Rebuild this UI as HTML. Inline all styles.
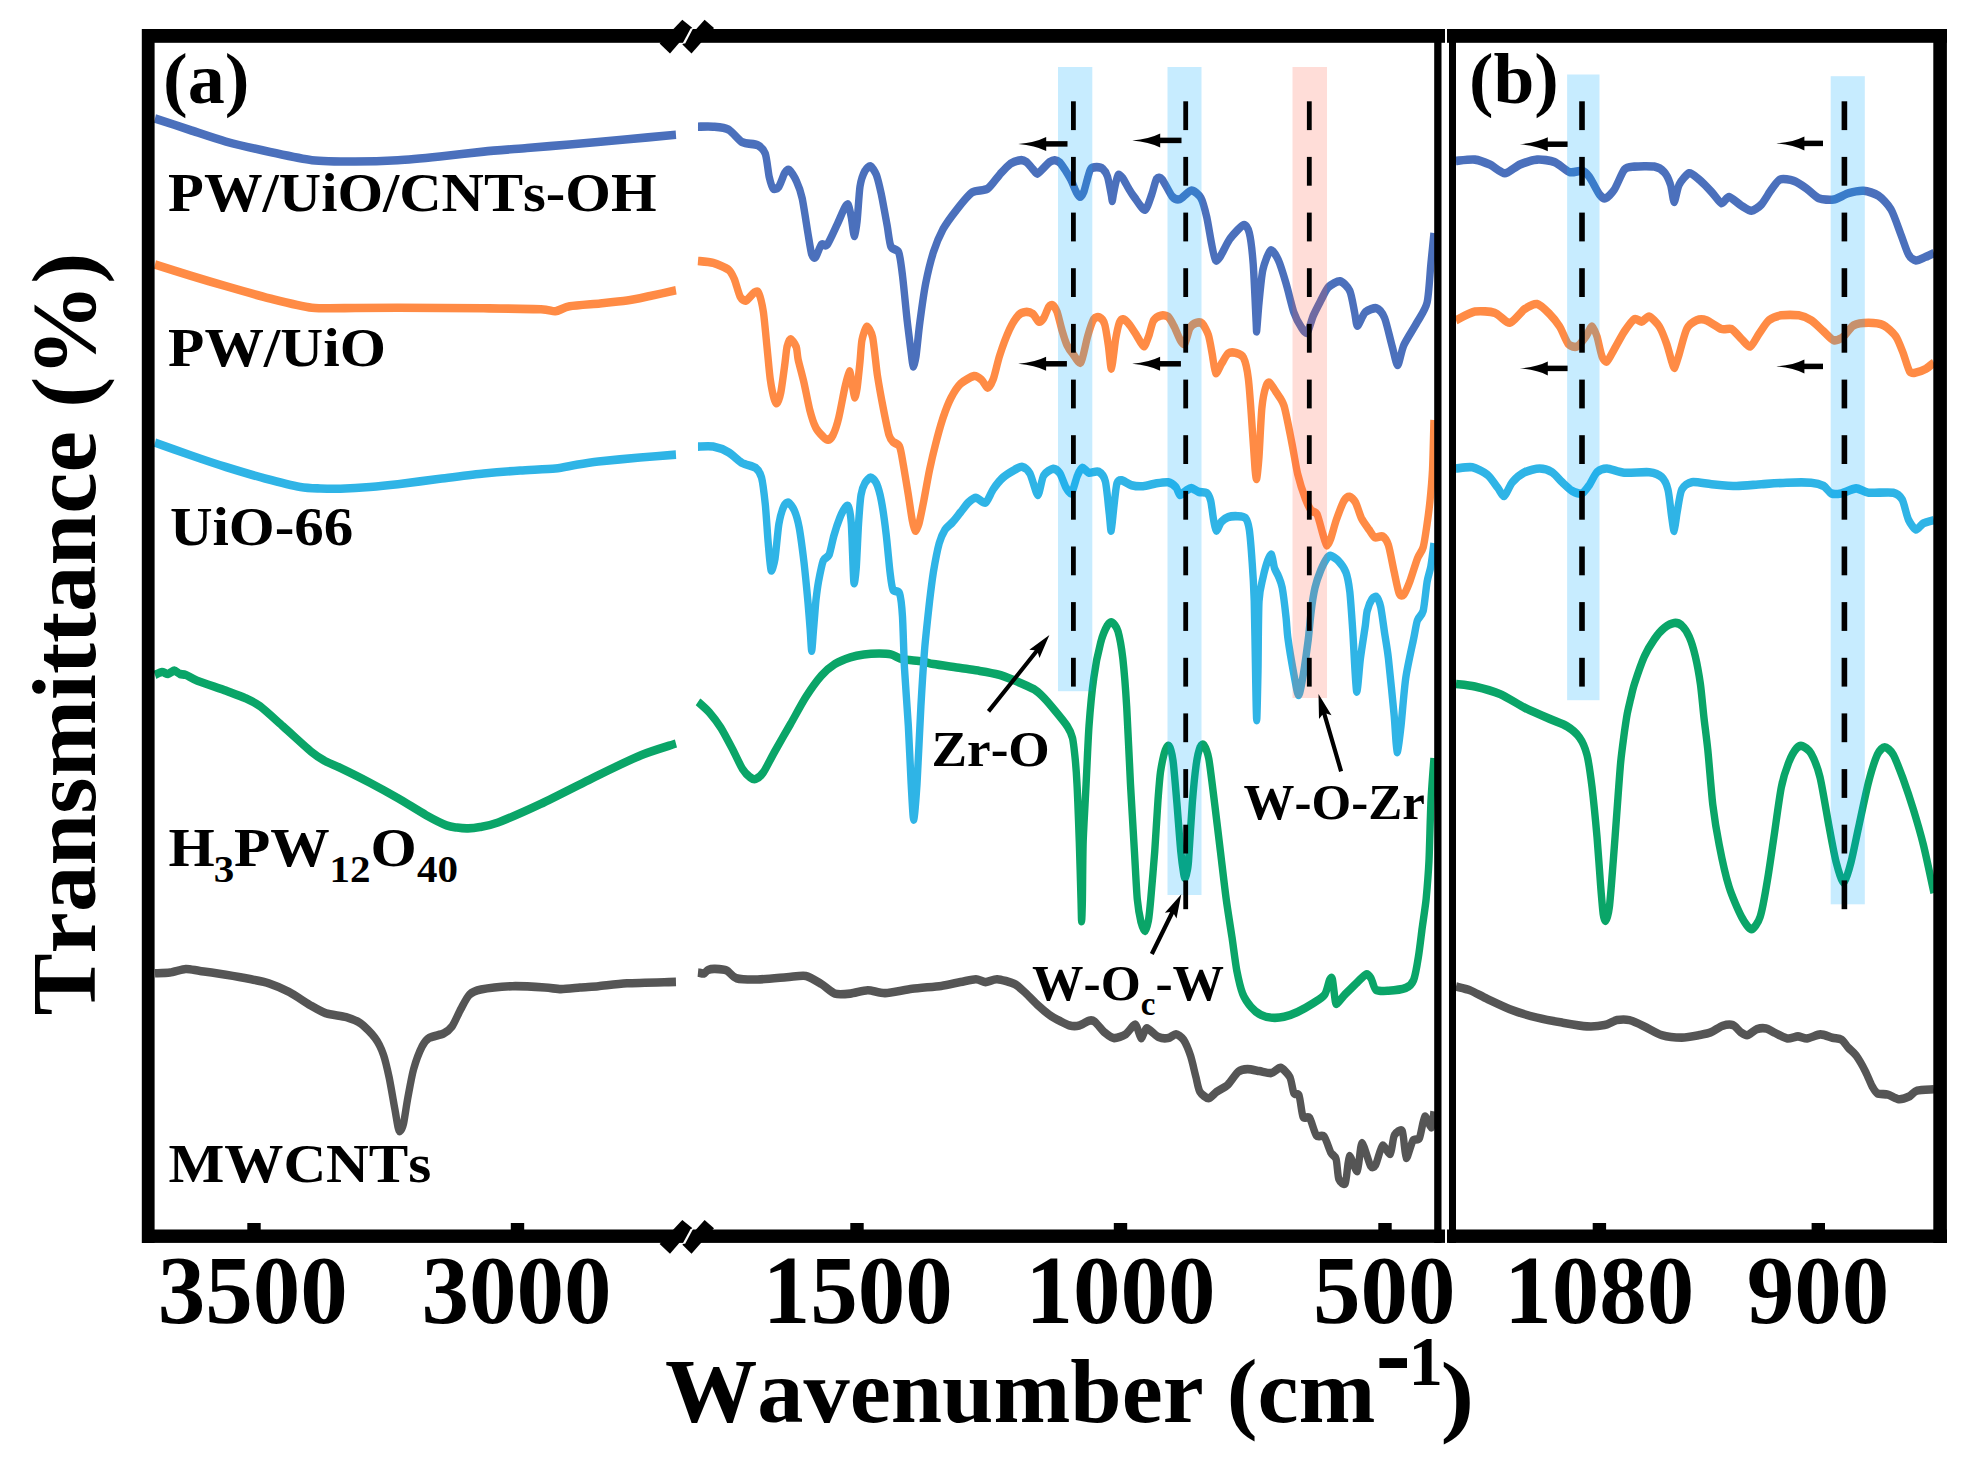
<!DOCTYPE html>
<html><head><meta charset="utf-8"><title>FTIR spectra</title>
<style>
html,body{margin:0;padding:0;background:#fff;}
body{width:1967px;height:1466px;overflow:hidden;}
svg{display:block;}
text{font-kerning:none;font-family:"Liberation Serif","Times New Roman",serif;font-weight:bold;fill:#000;}
</style></head><body>
<svg width="1967" height="1466" viewBox="0 0 1967 1466">
<rect x="0" y="0" width="1967" height="1466" fill="#fff"/>

<g fill="none" stroke-linejoin="round" stroke-linecap="butt" stroke-width="8.6" transform="scale(0.86,1)">
<path d="M180.2,973.3C182.4,973.2 193.2,973.0 197.7,972.5C202.2,972.0 211.7,969.2 216.0,969.0C220.4,968.8 226.7,970.3 232.6,971.0C238.4,971.7 255.4,973.7 262.7,974.7C269.9,975.7 284.4,977.9 290.7,979.0C296.9,980.1 307.0,981.7 312.7,983.3C318.3,984.9 329.8,989.0 336.0,991.9C342.3,994.8 357.3,1003.5 362.7,1006.2C368.1,1008.9 374.3,1012.0 379.3,1013.4C384.3,1014.8 397.6,1015.9 402.6,1017.1C407.6,1018.4 415.1,1020.8 419.3,1023.4C423.5,1026.0 432.6,1033.9 435.9,1037.8C439.3,1041.7 443.9,1049.9 445.9,1054.9C448.0,1059.9 450.9,1071.1 452.6,1077.9C454.2,1084.7 457.9,1103.3 459.2,1109.4C460.5,1115.5 462.0,1124.3 462.8,1127.0C463.5,1129.7 464.3,1131.4 465.1,1131.0C465.9,1130.6 468.1,1127.8 469.2,1123.7C470.3,1119.6 472.7,1104.7 474.2,1097.9C475.7,1091.1 478.8,1075.8 480.9,1069.3C483.0,1062.8 488.6,1050.2 490.9,1046.3C493.2,1042.4 496.1,1039.4 499.2,1037.8C502.3,1036.2 512.5,1034.9 515.8,1033.5C519.1,1032.1 523.3,1029.3 525.8,1026.3C528.3,1023.2 533.3,1013.0 535.8,1009.1C538.3,1005.2 542.9,997.2 545.8,994.8C548.7,992.4 552.9,990.7 559.2,989.6C565.4,988.5 586.5,986.5 595.8,986.2C605.1,985.9 626.6,987.1 633.7,987.5C640.8,987.9 647.4,989.1 652.4,989.1C657.5,989.1 669.0,987.9 674.4,987.5C679.8,987.1 688.9,986.7 695.7,986.2C702.5,985.7 717.8,983.8 729.1,983.3C740.4,982.8 778.9,982.1 786.0,981.9" stroke="#555555"/>
<path d="M811.6,972.4C812.5,972.5 817.2,973.8 818.6,973.5C820.1,973.2 821.6,970.6 823.3,970.0C824.9,969.4 828.8,968.8 831.5,968.9C834.2,969.0 841.9,969.3 845.0,970.5C848.1,971.7 851.8,977.1 856.3,978.2C860.8,979.3 873.6,979.6 880.9,979.5C888.2,979.4 907.6,977.7 914.7,977.2C921.7,976.8 932.0,975.0 937.1,975.9C942.2,976.8 950.9,981.8 955.1,984.0C959.3,986.2 966.6,992.4 970.8,993.6C975.0,994.8 984.1,994.0 988.8,993.6C993.6,993.2 1003.9,990.3 1009.0,990.2C1014.0,990.1 1022.7,993.3 1029.2,993.1C1035.7,992.9 1052.5,989.7 1060.7,988.8C1068.9,987.9 1087.4,986.7 1094.4,985.9C1101.4,985.1 1111.8,982.9 1116.9,982.1C1121.9,981.3 1131.1,979.2 1134.8,979.2C1138.4,979.2 1143.0,982.1 1146.0,982.1C1149.1,982.1 1155.3,979.0 1159.5,979.2C1163.8,979.4 1175.6,982.2 1179.8,984.0C1184.0,985.8 1189.9,991.0 1193.3,993.6C1196.6,996.2 1203.4,1002.5 1206.7,1005.2C1210.1,1007.9 1217.0,1012.9 1220.2,1014.9C1223.5,1016.9 1229.6,1019.7 1232.6,1021.0C1235.5,1022.3 1241.0,1024.9 1243.8,1025.5C1246.6,1026.1 1252.2,1026.1 1255.0,1025.5C1257.8,1024.9 1264.0,1021.2 1266.3,1020.7C1268.5,1020.2 1270.8,1020.2 1273.0,1021.7C1275.3,1023.2 1281.4,1030.2 1284.2,1032.3C1287.0,1034.3 1292.4,1037.9 1295.5,1038.1C1298.6,1038.3 1305.9,1035.9 1309.0,1034.2C1312.0,1032.5 1317.9,1024.1 1320.1,1024.6C1322.4,1025.1 1325.2,1037.6 1326.9,1038.1C1328.5,1038.6 1331.1,1028.5 1333.6,1028.4C1336.1,1028.3 1344.0,1035.9 1347.1,1037.1C1350.2,1038.3 1355.8,1038.5 1358.4,1038.1C1360.9,1037.7 1365.1,1034.0 1367.3,1034.2C1369.6,1034.4 1374.3,1037.3 1376.4,1040.0C1378.5,1042.7 1382.6,1051.3 1384.4,1055.9C1386.2,1060.5 1389.2,1072.5 1390.6,1077.0C1391.9,1081.5 1393.3,1088.9 1395.1,1091.6C1396.9,1094.2 1402.6,1098.2 1405.1,1098.2C1407.6,1098.2 1412.3,1093.2 1415.1,1091.6C1417.9,1089.9 1424.4,1087.5 1427.4,1085.0C1430.5,1082.5 1436.9,1073.8 1439.8,1071.8C1442.7,1069.8 1447.5,1069.2 1450.6,1069.1C1453.7,1069.0 1461.0,1070.6 1464.4,1071.1C1467.9,1071.6 1475.2,1073.5 1478.3,1073.1C1481.3,1072.7 1486.4,1067.3 1489.1,1067.8C1491.8,1068.3 1497.8,1073.9 1499.8,1077.0C1501.7,1080.1 1503.1,1090.6 1504.4,1092.9C1505.8,1095.2 1509.2,1092.6 1510.6,1095.6C1511.9,1098.6 1513.6,1113.9 1515.1,1116.7C1516.7,1119.5 1521.0,1115.8 1522.9,1118.1C1524.8,1120.4 1528.5,1133.0 1530.6,1135.3C1532.7,1137.6 1537.7,1134.4 1539.8,1136.6C1541.9,1138.8 1545.7,1149.7 1547.4,1152.5C1549.2,1155.3 1552.4,1155.8 1553.6,1159.1C1554.8,1162.4 1555.4,1175.9 1556.7,1178.9C1558.1,1181.9 1562.9,1185.7 1564.4,1182.9C1566.0,1180.1 1567.3,1157.9 1569.1,1156.4C1570.8,1154.9 1576.4,1172.7 1578.3,1171.0C1580.1,1169.3 1581.7,1143.9 1583.6,1143.2C1585.5,1142.5 1591.6,1163.0 1593.6,1165.7C1595.6,1168.4 1598.0,1166.9 1599.8,1164.4C1601.5,1161.9 1605.3,1147.1 1607.4,1145.8C1609.6,1144.5 1615.0,1155.1 1616.7,1153.8C1618.5,1152.5 1619.5,1138.1 1621.3,1135.3C1623.0,1132.5 1628.9,1128.5 1630.6,1131.3C1632.3,1134.1 1633.6,1156.6 1635.1,1157.8C1636.7,1159.0 1641.0,1143.1 1642.9,1140.6C1644.8,1138.1 1648.9,1140.9 1650.6,1137.9C1652.3,1134.9 1655.0,1118.0 1656.7,1116.7C1658.5,1115.4 1663.1,1128.0 1664.4,1127.3C1665.8,1126.6 1667.1,1113.4 1667.4,1111.4" stroke="#555555"/>
<path d="M1693.0,986.5C1695.0,987.0 1704.6,988.6 1709.2,990.2C1713.8,991.8 1723.4,996.5 1729.5,999.0C1735.7,1001.5 1751.2,1007.9 1758.5,1010.2C1765.7,1012.5 1780.2,1016.1 1787.4,1017.6C1794.7,1019.1 1809.2,1021.5 1816.4,1022.6C1823.6,1023.7 1839.2,1026.1 1845.3,1026.4C1851.5,1026.7 1861.4,1025.9 1865.7,1025.1C1870.0,1024.3 1876.5,1020.7 1880.1,1020.1C1883.7,1019.5 1890.7,1019.3 1894.7,1020.1C1898.6,1020.9 1907.3,1024.5 1912.0,1026.4C1916.7,1028.3 1926.9,1033.7 1932.3,1035.1C1937.8,1036.5 1950.0,1037.6 1955.5,1037.6C1960.9,1037.6 1971.5,1035.8 1975.7,1035.1C1979.9,1034.4 1985.7,1033.6 1989.1,1032.4C1992.5,1031.2 1999.6,1026.7 2002.9,1025.8C2006.2,1024.9 2012.5,1024.3 2015.2,1025.1C2017.9,1025.9 2022.3,1031.2 2024.4,1032.4C2026.5,1033.7 2029.8,1035.5 2032.1,1035.1C2034.4,1034.7 2040.2,1029.9 2042.9,1029.1C2045.6,1028.3 2051.2,1028.0 2053.7,1028.4C2056.2,1028.8 2059.8,1031.2 2062.9,1032.4C2066.0,1033.7 2074.8,1037.9 2078.3,1038.4C2081.7,1038.9 2087.7,1036.4 2090.6,1036.4C2093.5,1036.4 2098.1,1038.7 2101.4,1038.4C2104.7,1038.2 2113.1,1034.5 2116.7,1034.4C2120.4,1034.3 2127.5,1037.0 2130.6,1037.7C2133.7,1038.4 2139.1,1038.5 2141.4,1039.7C2143.7,1040.9 2147.0,1045.6 2149.1,1047.6C2151.2,1049.6 2155.8,1052.6 2158.3,1055.6C2160.8,1058.6 2166.8,1067.6 2169.1,1071.4C2171.4,1075.2 2175.0,1083.3 2176.7,1086.0C2178.5,1088.7 2180.6,1092.2 2182.9,1093.3C2185.2,1094.4 2192.2,1093.9 2195.2,1094.6C2198.3,1095.3 2204.5,1099.0 2207.6,1099.2C2210.6,1099.5 2217.1,1097.7 2219.8,1096.6C2222.5,1095.5 2225.4,1091.5 2229.1,1090.6C2232.7,1089.7 2246.4,1089.5 2248.8,1089.3" stroke="#555555"/>
<path d="M180.2,674.9C181.2,674.5 186.5,672.1 188.4,672.0C190.3,671.9 193.5,674.2 195.3,674.0C197.2,673.8 201.0,670.6 202.8,670.6C204.5,670.6 207.6,673.5 209.3,674.0C211.0,674.5 213.8,674.2 216.3,675.0C218.8,675.8 223.6,678.7 229.4,680.7C235.2,682.7 255.7,688.5 262.7,690.7C269.6,692.9 279.9,696.0 284.9,698.0C289.9,700.0 297.1,702.8 302.7,706.4C308.2,710.0 321.8,720.8 329.3,726.5C336.8,732.2 356.6,748.0 362.7,752.3C368.7,756.6 373.8,759.0 377.9,761.0C382.1,763.0 389.5,765.3 395.9,768.0C402.4,770.7 421.0,778.6 429.3,782.4C437.6,786.2 454.2,794.0 462.6,798.1C470.9,802.2 488.7,811.9 495.8,815.3C502.9,818.7 514.7,823.8 519.2,825.3C523.6,826.8 528.3,827.2 531.4,827.6C534.5,828.0 540.8,828.5 544.2,828.4C547.5,828.3 553.8,827.7 558.1,827.0C562.5,826.3 570.2,825.4 579.1,822.5C587.9,819.6 614.5,809.7 629.1,803.8C643.6,797.9 681.1,781.3 695.7,775.2C710.3,769.1 734.4,759.1 745.7,755.1C757.0,751.1 781.0,745.0 786.0,743.5" stroke="#0aa568"/>
<path d="M811.6,701.8C813.3,703.1 821.4,709.1 824.8,712.4C828.1,715.7 834.9,723.3 838.3,727.9C841.6,732.5 848.6,744.0 851.7,749.1C854.8,754.2 860.5,764.9 863.0,768.4C865.6,771.9 870.0,775.8 872.0,777.1C873.9,778.4 876.8,779.6 878.7,779.0C880.7,778.4 884.9,775.8 887.7,772.3C890.5,768.8 897.2,757.0 901.2,751.0C905.1,745.0 914.7,730.8 919.2,724.0C923.7,717.2 932.6,702.9 937.1,696.9C941.6,690.9 950.9,679.8 955.1,675.7C959.3,671.6 966.6,666.4 970.8,664.1C975.0,661.8 984.6,658.5 988.8,657.3C993.1,656.1 1000.3,654.9 1004.5,654.4C1008.7,653.9 1018.5,653.5 1022.4,653.5C1026.4,653.5 1032.6,653.7 1035.9,654.4C1039.3,655.1 1044.9,658.4 1049.4,659.3C1053.9,660.1 1067.4,660.6 1071.9,661.2C1076.4,661.8 1079.7,663.2 1085.3,664.1C1091.0,665.0 1110.1,667.1 1116.9,668.0C1123.6,668.9 1133.7,670.1 1139.3,670.9C1144.9,671.7 1156.7,673.5 1161.7,674.7C1166.8,675.9 1174.7,678.7 1179.8,680.5C1184.8,682.3 1198.0,687.1 1202.2,689.2C1206.4,691.3 1210.5,694.9 1213.5,697.5C1216.5,700.1 1222.5,706.2 1225.9,709.8C1229.4,713.4 1238.5,723.0 1241.2,726.5C1243.8,730.0 1246.0,734.2 1247.1,738.0C1248.2,741.8 1249.3,751.3 1250.0,757.0C1250.7,762.7 1251.7,773.3 1252.3,783.9C1253.0,794.5 1254.4,827.3 1255.0,841.8C1255.6,856.3 1256.6,890.1 1257.0,900.0C1257.3,909.9 1257.5,921.2 1257.7,921.2C1257.9,921.2 1258.4,909.9 1258.6,900.0C1258.8,890.1 1259.0,856.3 1259.5,841.8C1260.1,827.3 1262.1,798.4 1262.9,783.9C1263.8,769.4 1265.2,739.2 1266.3,725.9C1267.4,712.6 1270.2,688.0 1271.9,677.6C1273.5,667.2 1277.8,649.3 1279.8,642.8C1281.7,636.3 1285.9,628.0 1287.6,625.5C1289.2,623.0 1291.7,621.9 1293.3,622.6C1294.8,623.3 1298.5,626.8 1300.0,631.3C1301.5,635.8 1304.3,648.9 1305.6,658.3C1306.8,667.7 1309.0,690.9 1310.1,706.6C1311.2,722.3 1313.4,765.8 1314.5,783.9C1315.7,802.0 1318.1,837.1 1319.1,851.5C1320.1,865.9 1321.5,890.2 1322.4,899.0C1323.4,907.8 1325.6,918.0 1326.7,922.0C1327.9,926.0 1330.3,931.1 1331.4,930.9C1332.5,930.6 1334.6,924.0 1335.5,920.0C1336.3,916.0 1337.2,907.6 1338.1,899.0C1339.0,890.4 1341.6,863.9 1342.7,851.5C1343.7,839.1 1345.7,809.9 1346.5,800.0C1347.4,790.1 1348.4,778.2 1349.4,772.0C1350.5,765.8 1353.7,753.2 1355.0,750.0C1356.3,746.8 1358.4,744.9 1359.5,746.2C1360.7,747.5 1362.8,753.6 1364.0,760.7C1365.1,767.8 1367.4,791.9 1368.5,803.2C1369.6,814.6 1372.0,842.6 1373.0,851.5C1374.0,860.4 1375.8,870.7 1376.4,874.0C1377.0,877.3 1377.7,878.2 1378.1,878.0C1378.6,877.8 1379.8,874.1 1380.2,872.0C1380.7,869.9 1381.2,869.8 1382.0,861.2C1382.7,852.6 1385.3,815.3 1386.4,803.2C1387.5,791.1 1389.8,771.6 1390.9,764.6C1392.1,757.6 1394.3,749.6 1395.5,747.2C1396.6,744.8 1398.6,743.8 1399.9,745.2C1401.1,746.7 1404.0,751.5 1405.6,758.8C1407.1,766.0 1410.6,791.6 1412.3,803.2C1414.0,814.8 1417.4,839.5 1419.1,851.5C1420.8,863.5 1424.1,888.2 1425.8,899.0C1427.5,909.8 1431.0,928.7 1432.6,937.6C1434.1,946.5 1436.6,963.5 1438.1,970.5C1439.7,977.5 1442.8,989.0 1444.9,993.6C1447.0,998.2 1452.3,1004.5 1455.0,1007.2C1457.7,1009.9 1463.1,1013.6 1466.2,1014.9C1469.2,1016.2 1476.3,1017.6 1479.7,1017.8C1483.0,1018.0 1489.5,1017.5 1493.1,1016.8C1496.8,1016.1 1504.6,1013.7 1508.8,1012.0C1513.1,1010.3 1522.9,1005.5 1526.9,1003.3C1530.8,1001.1 1538.0,997.5 1540.3,994.6C1542.7,991.7 1544.8,982.0 1545.9,980.1C1547.0,978.2 1548.5,976.5 1549.3,979.2C1550.1,981.9 1552.0,998.4 1552.7,1001.4C1553.4,1004.4 1553.3,1004.3 1554.9,1003.3C1556.4,1002.3 1562.0,996.2 1565.0,993.6C1568.0,991.0 1575.5,984.5 1578.5,982.1C1581.4,979.7 1586.6,974.8 1588.6,974.3C1590.6,973.8 1592.8,976.3 1594.2,978.2C1595.6,980.1 1597.4,988.2 1599.9,989.8C1602.4,991.4 1610.1,990.9 1614.4,990.7C1618.8,990.5 1631.0,989.2 1634.7,987.9C1638.3,986.6 1641.9,984.0 1643.7,980.1C1645.6,976.2 1648.1,963.4 1649.3,956.9C1650.6,950.4 1652.6,935.2 1653.7,928.0C1654.8,920.8 1657.3,907.4 1658.3,899.0C1659.2,890.6 1660.9,873.4 1661.6,861.0C1662.3,848.6 1663.2,812.9 1664.0,800.0C1664.7,787.1 1667.0,763.2 1667.4,758.0" stroke="#0aa568"/>
<path d="M1693.0,684.0C1695.8,684.3 1708.6,685.2 1715.0,686.5C1721.4,687.8 1736.7,691.4 1744.0,694.0C1751.2,696.6 1765.7,704.6 1772.9,707.7C1780.2,710.8 1795.8,716.6 1802.0,718.9C1808.1,721.2 1817.9,724.1 1822.2,726.4C1826.5,728.7 1833.7,733.9 1836.6,737.4C1839.5,740.9 1843.5,748.6 1845.3,754.8C1847.2,761.0 1849.7,776.9 1851.2,787.2C1852.6,797.5 1855.7,824.5 1857.0,837.0C1858.2,849.5 1860.4,877.1 1861.3,886.8C1862.2,896.4 1863.5,910.0 1864.2,914.2C1864.9,918.4 1866.2,921.4 1867.1,920.5C1868.0,919.6 1870.3,914.1 1871.4,906.8C1872.5,899.5 1874.7,873.7 1875.8,861.9C1876.9,850.1 1879.0,824.6 1880.1,812.1C1881.2,799.6 1883.4,772.3 1884.5,762.3C1885.6,752.3 1887.9,738.4 1888.8,732.4C1889.8,726.4 1891.2,718.1 1892.1,713.9C1893.0,709.7 1895.0,702.7 1896.0,699.0C1897.1,695.3 1898.5,689.3 1900.5,684.0C1902.5,678.7 1909.1,662.2 1912.0,656.6C1914.9,651.0 1920.7,642.8 1923.6,639.2C1926.5,635.6 1932.2,630.0 1935.1,628.0C1938.0,626.0 1944.2,623.3 1946.7,623.0C1949.3,622.7 1953.3,623.8 1955.5,625.5C1957.6,627.2 1962.2,632.8 1964.2,636.7C1966.2,640.6 1969.8,650.7 1971.4,656.6C1973.0,662.5 1975.9,676.2 1977.2,684.0C1978.5,691.8 1980.4,710.7 1981.5,718.9C1982.6,727.1 1984.5,739.1 1985.8,749.8C1987.1,760.5 1990.0,792.8 1991.6,804.6C1993.3,816.4 1996.6,834.2 1999.0,844.5C2001.3,854.8 2007.2,877.8 2010.5,886.8C2013.7,895.8 2021.7,911.4 2025.0,916.7C2028.3,922.0 2033.8,929.2 2036.5,929.2C2039.2,929.2 2044.4,922.9 2046.7,916.7C2049.1,910.5 2053.4,889.4 2055.3,879.4C2057.3,869.4 2060.7,848.5 2062.7,837.0C2064.7,825.5 2069.1,796.5 2071.3,787.2C2073.4,777.9 2077.8,767.1 2080.0,762.3C2082.2,757.5 2086.7,750.6 2088.7,748.6C2090.7,746.6 2093.8,745.5 2095.9,746.1C2098.1,746.7 2103.5,749.7 2106.0,753.6C2108.6,757.5 2113.7,768.3 2116.3,777.2C2118.8,786.1 2124.1,814.0 2126.4,824.6C2128.7,835.2 2132.8,854.7 2135.0,861.9C2137.2,869.1 2141.5,882.5 2143.7,882.5C2145.9,882.5 2150.3,868.8 2152.4,861.9C2154.6,855.0 2158.6,837.1 2161.2,827.1C2163.7,817.1 2170.0,791.2 2172.7,782.2C2175.4,773.2 2180.6,759.2 2182.9,754.8C2185.3,750.4 2189.2,747.3 2191.5,747.3C2193.9,747.3 2198.9,750.8 2201.6,754.8C2204.3,758.8 2210.3,772.9 2213.3,779.7C2216.2,786.6 2222.0,801.5 2224.9,809.6C2227.8,817.7 2233.4,834.1 2236.4,844.5C2239.4,854.9 2247.3,886.9 2248.8,893.0" stroke="#0aa568"/>
<path d="M180.2,442.6C185.3,444.2 210.6,451.9 220.9,455.0C231.2,458.1 251.8,464.1 262.7,467.0C273.6,469.9 297.3,476.0 308.1,478.5C319.0,481.0 341.3,485.8 349.3,487.0C357.3,488.2 366.3,488.3 372.1,488.5C377.9,488.7 388.7,488.9 395.9,488.7C403.2,488.5 421.9,487.6 430.2,487.0C438.6,486.4 452.4,485.2 462.6,484.2C472.7,483.2 499.1,480.1 511.6,478.8C524.1,477.5 550.8,474.5 562.4,473.5C574.1,472.5 594.2,471.1 604.7,470.5C615.1,469.9 637.8,469.2 645.8,468.5C653.8,467.8 662.4,465.9 668.6,465.0C674.8,464.1 686.2,462.4 695.7,461.5C705.1,460.6 732.9,458.4 744.2,457.5C755.5,456.6 780.8,455.0 786.0,454.6" stroke="#2fb4e6"/>
<path d="M811.6,446.6C813.8,446.6 824.9,445.9 829.3,446.6C833.8,447.3 843.0,450.3 847.2,452.4C851.4,454.4 859.1,461.1 863.0,463.0C867.0,464.9 875.9,466.1 878.7,467.9C881.5,469.7 884.1,472.9 885.5,477.5C886.9,482.1 888.9,496.4 889.9,504.6C890.9,512.8 892.4,535.0 893.3,543.2C894.1,551.4 895.6,568.3 896.6,570.2C897.6,572.1 900.0,564.5 901.2,558.7C902.3,552.9 904.4,530.4 905.7,523.9C907.0,517.4 909.9,509.2 911.3,506.5C912.7,503.8 915.3,502.1 916.9,502.6C918.4,503.1 922.0,507.3 923.6,510.4C925.2,513.5 927.9,521.2 929.3,527.7C930.7,534.2 933.6,553.3 934.9,562.5C936.1,571.7 938.5,592.8 939.4,601.2C940.3,609.6 941.5,623.8 942.1,630.0C942.6,636.2 943.4,650.6 943.8,650.6C944.3,650.6 945.3,636.3 945.9,630.0C946.6,623.7 948.1,606.0 948.8,600.0C949.6,594.0 950.7,586.7 951.7,581.8C952.8,576.9 955.8,564.0 957.3,560.6C958.9,557.2 962.5,557.9 964.1,554.8C965.6,551.7 968.1,540.1 969.7,535.5C971.2,530.9 974.8,521.5 976.4,518.1C978.0,514.7 980.8,509.8 982.1,508.4C983.4,506.9 985.5,504.6 986.5,506.5C987.5,508.4 989.1,514.5 989.9,523.9C990.7,533.3 992.1,576.2 992.8,581.8C993.5,587.3 994.9,575.5 995.6,568.3C996.3,561.1 997.6,533.1 998.3,523.9C999.0,514.7 1000.2,500.0 1001.2,494.9C1002.1,489.8 1004.2,485.5 1005.6,483.3C1007.0,481.1 1010.6,477.5 1012.3,477.5C1014.0,477.5 1017.5,480.4 1019.1,483.3C1020.6,486.2 1023.4,494.4 1024.8,500.7C1026.2,507.0 1029.1,524.6 1030.3,533.5C1031.6,542.4 1033.9,565.2 1034.9,572.2C1035.9,579.2 1036.9,587.0 1038.3,589.6C1039.7,592.2 1044.7,590.0 1046.0,593.4C1047.4,596.8 1048.7,607.3 1049.4,616.6C1050.1,625.9 1050.9,654.3 1051.7,668.0C1052.6,681.7 1055.2,711.4 1056.2,725.9C1057.1,740.4 1058.8,772.2 1059.5,783.9C1060.3,795.6 1061.6,819.6 1062.4,819.6C1063.3,819.6 1065.2,798.0 1066.3,783.9C1067.3,769.8 1069.7,723.5 1070.8,706.6C1071.9,689.7 1074.0,661.8 1075.2,648.6C1076.5,635.4 1079.7,610.8 1080.9,601.2C1082.2,591.7 1084.0,579.5 1085.3,572.2C1086.7,565.0 1090.4,548.5 1092.1,543.2C1093.8,537.9 1096.9,532.4 1098.8,529.7C1100.8,527.0 1105.7,524.1 1107.9,521.9C1110.2,519.7 1114.6,514.7 1116.9,512.3C1119.1,509.9 1123.6,504.4 1125.8,502.6C1128.1,500.8 1132.2,497.8 1134.8,497.8C1137.3,497.8 1143.5,503.7 1146.0,502.6C1148.6,501.5 1152.5,492.2 1155.0,489.1C1157.5,486.0 1163.2,479.9 1166.3,477.5C1169.4,475.1 1177.0,471.1 1179.8,469.8C1182.6,468.5 1186.5,466.4 1188.7,466.9C1191.0,467.4 1195.4,470.1 1197.7,473.6C1199.9,477.1 1204.8,494.6 1206.7,494.9C1208.7,495.1 1211.2,478.9 1213.5,475.6C1215.7,472.3 1222.3,469.1 1224.7,468.8C1227.0,468.6 1230.7,471.3 1232.6,473.6C1234.4,475.9 1237.6,484.8 1239.3,487.2C1241.0,489.6 1244.4,494.4 1246.0,493.0C1247.7,491.6 1251.2,478.7 1252.8,475.6C1254.3,472.5 1256.7,468.3 1258.4,467.9C1260.1,467.5 1263.9,472.2 1266.3,472.7C1268.7,473.2 1275.1,470.6 1277.4,471.7C1279.8,472.8 1283.8,476.1 1285.3,481.4C1286.9,486.7 1289.0,508.1 1289.9,514.2C1290.7,520.4 1291.4,531.8 1292.1,530.6C1292.8,529.4 1294.6,510.5 1295.5,504.6C1296.3,498.7 1297.7,486.3 1298.8,483.3C1300.0,480.3 1302.3,480.2 1304.4,480.4C1306.5,480.6 1312.6,484.5 1315.7,485.2C1318.8,485.9 1325.5,486.4 1329.2,486.2C1332.8,486.0 1341.2,483.8 1344.9,483.3C1348.5,482.8 1355.6,481.8 1358.4,482.3C1361.2,482.8 1365.6,485.6 1367.3,487.2C1369.0,488.8 1370.5,494.4 1371.9,494.9C1373.3,495.4 1376.9,491.9 1378.6,491.0C1380.3,490.1 1383.4,488.0 1385.3,488.1C1387.3,488.2 1392.1,491.4 1394.3,492.0C1396.5,492.6 1401.6,491.9 1403.3,493.0C1404.9,494.1 1406.8,497.3 1407.8,500.7C1408.8,504.1 1410.3,516.3 1411.2,520.0C1412.0,523.7 1413.4,530.4 1414.5,530.6C1415.7,530.8 1418.4,523.6 1420.1,521.9C1421.8,520.2 1425.6,517.8 1428.0,517.1C1430.4,516.4 1436.7,516.1 1439.2,516.2C1441.7,516.3 1446.6,516.4 1448.3,518.1C1449.9,519.8 1451.7,524.2 1452.7,529.7C1453.6,535.2 1455.3,553.6 1456.0,562.5C1456.8,571.4 1457.9,587.8 1458.4,601.2C1458.9,614.6 1459.5,655.1 1459.9,670.0C1460.2,684.9 1460.9,720.1 1461.3,720.1C1461.6,720.1 1462.5,684.9 1462.8,670.0C1463.1,655.1 1463.2,612.7 1464.0,601.2C1464.7,589.7 1467.2,583.1 1468.5,578.0C1469.8,572.9 1472.8,563.5 1474.1,560.6C1475.3,557.7 1477.6,553.8 1478.6,554.8C1479.6,555.8 1481.0,565.6 1482.0,568.3C1483.0,570.9 1485.3,573.6 1486.4,576.0C1487.5,578.4 1489.8,582.5 1490.9,587.6C1492.0,592.7 1494.5,610.2 1495.3,616.6C1496.2,623.0 1496.5,631.9 1497.7,639.0C1498.8,646.1 1502.9,666.8 1504.4,673.8C1506.0,680.8 1508.6,695.0 1510.0,695.0C1511.4,695.0 1514.2,680.8 1515.6,673.8C1517.0,666.8 1520.1,646.9 1521.3,639.0C1522.4,631.1 1523.7,617.2 1524.7,610.8C1525.6,604.4 1527.7,592.7 1529.1,587.6C1530.5,582.5 1534.1,573.8 1535.8,570.2C1537.5,566.6 1541.1,560.5 1542.6,558.7C1544.0,556.9 1545.4,555.6 1547.1,555.8C1548.8,556.0 1553.8,558.5 1556.0,560.6C1558.3,562.7 1563.3,568.3 1565.0,572.2C1566.7,576.1 1568.5,584.3 1569.5,591.5C1570.5,598.7 1571.9,617.5 1572.9,630.0C1573.9,642.5 1576.3,687.6 1577.4,691.1C1578.6,694.6 1580.6,666.5 1581.9,658.3C1583.1,650.1 1586.6,631.4 1587.6,625.5C1588.5,619.6 1588.8,614.1 1589.8,610.8C1590.7,607.5 1594.0,600.9 1595.3,599.2C1596.7,597.5 1599.7,596.3 1600.9,597.3C1602.2,598.3 1604.3,602.5 1605.5,607.0C1606.6,611.5 1608.9,626.6 1610.0,633.0C1611.1,639.4 1613.0,647.9 1614.4,658.3C1615.8,668.7 1619.9,704.6 1621.2,716.3C1622.4,728.0 1623.5,750.8 1624.5,752.0C1625.5,753.2 1627.8,735.2 1629.1,725.9C1630.3,716.6 1632.8,688.5 1634.7,677.6C1636.5,666.7 1642.0,646.1 1643.7,639.0C1645.4,631.9 1646.7,624.0 1648.1,620.5C1649.5,617.0 1653.5,615.6 1654.9,610.8C1656.3,606.0 1658.3,587.3 1659.4,581.8C1660.5,576.2 1662.8,571.2 1663.8,566.4C1664.8,561.6 1667.0,546.1 1667.4,543.2" stroke="#2fb4e6"/>
<path d="M1693.0,468.5C1695.4,468.4 1707.5,466.5 1712.1,467.3C1716.7,468.1 1725.9,472.2 1729.5,474.7C1733.2,477.2 1738.6,484.6 1741.0,487.2C1743.5,489.8 1747.0,496.5 1749.2,495.9C1751.4,495.3 1755.5,485.2 1758.5,482.2C1761.5,479.2 1768.9,473.9 1772.9,472.2C1776.9,470.5 1786.4,468.5 1790.3,468.5C1794.3,468.5 1801.5,470.5 1804.8,472.2C1808.0,473.9 1813.5,479.9 1816.4,482.2C1819.3,484.5 1825.1,489.5 1828.0,490.9C1830.9,492.3 1837.0,494.2 1839.5,493.4C1842.1,492.6 1846.1,487.3 1848.3,484.7C1850.4,482.1 1854.4,474.2 1857.0,472.2C1859.5,470.2 1864.6,468.4 1868.6,468.5C1872.6,468.6 1882.7,472.2 1888.8,472.7C1895.0,473.2 1912.4,471.6 1917.8,472.2C1923.2,472.8 1929.6,475.0 1932.3,477.2C1935.0,479.4 1938.1,484.7 1939.5,489.7C1941.0,494.7 1942.9,512.0 1943.8,517.1C1944.7,522.2 1945.9,531.4 1946.7,530.8C1947.5,530.2 1949.1,517.2 1950.2,512.1C1951.3,507.0 1953.4,493.4 1955.5,489.7C1957.6,486.0 1962.7,482.9 1967.1,482.2C1971.4,481.5 1983.7,483.7 1990.2,484.2C1996.7,484.7 2011.9,486.0 2019.2,486.0C2026.4,486.0 2040.9,484.6 2048.1,484.2C2055.4,483.8 2069.9,482.9 2077.1,482.7C2084.3,482.5 2100.6,482.3 2106.0,482.7C2111.5,483.1 2117.7,484.7 2120.6,486.0C2123.5,487.3 2126.8,492.5 2129.3,493.4C2131.8,494.3 2137.2,494.0 2140.8,493.4C2144.4,492.8 2154.3,488.5 2158.3,488.4C2162.2,488.3 2167.3,492.2 2172.7,492.7C2178.1,493.2 2196.7,491.8 2201.6,492.7C2206.5,493.6 2209.7,496.3 2211.9,499.7C2214.0,503.1 2217.1,515.9 2219.1,519.6C2221.1,523.3 2225.6,529.0 2227.8,529.5C2230.0,530.0 2233.8,524.5 2236.4,523.3C2239.0,522.1 2247.3,520.5 2248.8,520.1" stroke="#2fb4e6"/>
<path d="M180.2,264.5C185.3,265.9 210.6,272.8 220.9,275.5C231.2,278.2 251.0,283.3 262.7,286.2C274.3,289.1 301.5,295.8 314.0,298.5C326.5,301.2 350.3,306.5 362.7,307.7C375.0,308.9 400.3,308.0 412.8,308.0C425.3,308.0 443.9,307.7 462.6,307.7C481.3,307.7 541.6,308.1 562.4,308.3C583.3,308.5 618.6,308.8 629.1,309.2C639.5,309.6 641.6,311.6 645.8,311.2C650.0,310.8 656.0,307.3 662.4,306.3C668.9,305.3 689.3,304.2 697.7,303.5C706.0,302.8 721.8,301.5 729.1,300.6C736.3,299.7 748.7,297.3 755.8,296.0C762.9,294.7 782.3,291.0 786.0,290.3" stroke="#ff8b45"/>
<path d="M811.6,261.0C813.8,261.2 824.9,261.8 829.3,262.9C833.8,264.0 844.1,267.6 847.2,269.7C850.3,271.8 852.3,275.9 854.0,279.3C855.6,282.7 859.0,294.0 860.7,296.7C862.4,299.4 865.5,301.1 867.4,300.6C869.4,300.1 874.7,293.9 876.5,292.9C878.3,291.9 880.7,290.5 882.1,292.9C883.5,295.3 886.4,305.1 887.7,312.2C888.9,319.3 891.2,341.6 892.2,350.0C893.2,358.4 894.6,373.0 895.6,379.0C896.6,385.0 899.0,395.3 900.0,398.3C901.0,401.3 902.4,403.8 903.4,403.1C904.4,402.4 906.8,397.2 907.9,392.5C909.0,387.8 911.5,371.2 912.4,365.5C913.3,359.8 914.3,350.3 915.1,347.0C916.0,343.7 917.8,339.2 919.2,339.2C920.5,339.2 924.8,344.4 925.9,347.0C927.0,349.6 927.0,355.2 928.1,359.7C929.3,364.2 933.2,376.5 934.9,382.8C936.6,389.1 939.9,404.3 941.6,409.9C943.3,415.5 946.4,423.9 948.4,427.3C950.3,430.7 955.5,435.3 957.3,436.9C959.1,438.5 961.5,440.0 962.9,439.8C964.3,439.6 967.0,437.8 968.6,435.0C970.2,432.2 973.7,423.4 975.3,417.6C977.0,411.8 980.6,394.4 982.1,388.6C983.6,382.8 986.6,371.8 987.7,371.3C988.8,370.8 990.3,381.6 991.0,384.8C991.8,388.1 993.0,396.8 993.7,397.3C994.4,397.8 995.8,393.1 996.6,388.6C997.4,384.1 999.3,367.7 1000.0,361.6C1000.7,355.5 1001.3,344.4 1002.3,340.0C1003.3,335.6 1006.4,327.0 1007.9,326.7C1009.4,326.4 1013.1,331.2 1014.7,337.3C1016.2,343.4 1018.7,366.3 1020.2,375.1C1021.8,383.9 1025.3,400.5 1027.0,408.0C1028.7,415.5 1032.3,430.8 1033.7,435.0C1035.1,439.2 1036.7,440.4 1038.3,441.8C1039.8,443.2 1044.5,443.6 1046.0,446.6C1047.6,449.6 1049.3,459.9 1050.6,465.9C1051.8,471.9 1054.9,488.1 1056.2,494.9C1057.4,501.7 1059.7,515.5 1060.7,520.0C1061.7,524.5 1063.1,530.1 1064.1,530.6C1065.0,531.1 1067.2,527.6 1068.5,523.9C1069.8,520.2 1072.6,507.5 1074.2,500.7C1075.7,493.9 1079.2,476.8 1080.9,469.8C1082.6,462.8 1085.7,451.2 1087.7,444.7C1089.6,438.2 1094.4,423.4 1096.6,417.6C1098.9,411.8 1103.1,402.5 1105.6,398.3C1108.1,394.1 1113.5,386.6 1116.9,383.8C1120.2,381.0 1129.5,376.6 1132.6,376.1C1135.6,375.6 1139.5,378.4 1141.5,379.9C1143.5,381.3 1146.6,387.8 1148.3,387.7C1149.9,387.6 1153.2,383.1 1155.0,379.0C1156.8,374.9 1160.2,361.2 1162.6,355.0C1164.9,348.8 1171.2,334.4 1173.8,329.5C1176.5,324.6 1181.5,317.8 1183.8,315.6C1186.1,313.4 1190.2,312.2 1192.3,312.0C1194.4,311.8 1198.9,312.6 1200.8,313.8C1202.8,315.0 1206.3,321.2 1207.9,321.7C1209.5,322.2 1212.2,319.9 1213.6,318.1C1215.0,316.3 1218.0,308.7 1219.3,307.1C1220.6,305.5 1223.0,304.7 1224.2,305.3C1225.4,305.9 1227.8,308.9 1229.2,312.0C1230.5,315.1 1233.5,326.2 1234.9,330.3C1236.3,334.4 1239.0,341.9 1240.6,344.9C1242.2,347.9 1245.6,351.8 1247.7,354.0C1249.7,356.2 1254.7,364.5 1256.9,362.3C1259.0,360.1 1262.8,341.8 1264.7,336.4C1266.5,331.0 1270.0,321.7 1271.7,319.3C1273.5,316.9 1277.2,316.9 1278.8,317.5C1280.4,318.1 1283.3,320.8 1284.5,324.2C1285.8,327.6 1287.7,339.4 1288.7,344.9C1289.7,350.4 1291.3,369.3 1292.3,368.5C1293.4,367.7 1296.2,344.5 1297.3,338.8C1298.5,333.1 1300.5,325.3 1301.5,322.9C1302.6,320.5 1304.4,319.1 1305.8,319.3C1307.2,319.5 1311.0,322.2 1312.9,324.2C1314.9,326.2 1319.3,332.3 1321.4,335.1C1323.5,337.9 1328.1,346.1 1329.9,346.3C1331.7,346.5 1334.2,339.6 1335.6,336.4C1337.0,333.2 1339.5,323.1 1341.3,320.5C1343.1,317.9 1347.6,316.1 1349.8,315.6C1351.9,315.1 1356.3,315.4 1358.3,316.8C1360.2,318.2 1363.6,323.7 1365.3,326.6C1367.1,329.5 1370.9,337.9 1372.4,340.0C1374.0,342.1 1376.2,345.0 1377.7,343.5C1379.1,342.0 1382.2,330.4 1383.8,327.8C1385.5,325.2 1389.2,323.4 1390.9,322.9C1392.7,322.4 1396.2,322.1 1398.0,323.6C1399.8,325.1 1403.7,331.4 1405.1,335.1C1406.5,338.8 1408.4,348.7 1409.4,353.4C1410.5,358.1 1412.2,371.8 1413.6,373.0C1415.0,374.2 1418.9,365.6 1420.7,363.2C1422.5,360.8 1426.0,354.8 1428.0,353.5C1430.1,352.2 1434.7,352.4 1437.0,352.9C1439.2,353.4 1444.1,354.4 1445.9,357.7C1447.8,361.0 1450.4,370.3 1451.6,379.0C1452.9,387.7 1455.1,415.9 1456.0,427.3C1457.0,438.7 1458.8,463.4 1459.4,469.8C1460.1,476.2 1460.7,480.2 1461.3,478.5C1461.8,476.8 1463.2,465.1 1464.0,456.3C1464.7,447.5 1466.3,416.7 1467.3,408.0C1468.3,399.3 1470.7,389.8 1471.9,386.7C1473.0,383.6 1474.7,382.1 1476.3,382.8C1477.8,383.5 1482.1,389.6 1484.2,392.5C1486.3,395.4 1490.9,399.7 1493.1,406.0C1495.4,412.3 1500.1,434.2 1502.1,442.7C1504.1,451.1 1506.9,466.6 1508.8,473.6C1510.8,480.6 1515.9,494.2 1517.9,498.8C1519.9,503.4 1523.0,508.5 1524.7,510.4C1526.3,512.3 1529.7,511.3 1531.4,514.2C1533.1,517.1 1536.6,529.6 1538.0,533.5C1539.4,537.4 1541.4,544.4 1542.6,545.1C1543.7,545.8 1545.7,542.4 1547.1,539.3C1548.5,536.2 1551.9,524.8 1553.8,520.0C1555.8,515.2 1560.8,503.6 1562.8,500.7C1564.8,497.8 1567.8,496.6 1569.5,496.8C1571.2,497.0 1574.6,499.9 1576.3,502.6C1578.0,505.3 1581.1,514.7 1583.0,518.1C1585.0,521.5 1590.0,527.3 1592.0,529.7C1593.9,532.1 1596.8,536.6 1598.7,537.4C1600.7,538.2 1605.7,535.4 1607.7,536.4C1609.6,537.4 1612.7,540.6 1614.4,545.1C1616.1,549.6 1619.6,566.2 1621.2,572.2C1622.7,578.2 1625.5,590.6 1626.9,593.4C1628.3,596.2 1630.9,595.9 1632.4,594.4C1634.0,592.9 1637.2,586.3 1639.2,581.8C1641.1,577.3 1646.2,563.0 1648.1,558.7C1650.1,554.4 1653.5,551.5 1654.9,547.1C1656.3,542.8 1658.4,529.7 1659.4,523.9C1660.4,518.1 1662.0,507.4 1662.8,500.7C1663.6,494.0 1665.1,480.1 1665.7,470.0C1666.3,459.9 1667.2,426.2 1667.4,420.0" stroke="#ff8b45"/>
<path d="M1693.0,320.3C1695.8,319.2 1709.4,312.5 1715.0,311.6C1720.6,310.7 1733.1,311.4 1738.1,312.8C1743.2,314.2 1751.2,323.3 1755.6,322.8C1759.9,322.3 1768.9,311.4 1772.9,309.1C1776.9,306.8 1783.8,303.5 1787.4,304.1C1791.1,304.7 1798.7,311.3 1802.0,314.1C1805.2,316.9 1810.8,322.8 1813.5,326.5C1816.2,330.2 1821.1,341.5 1823.6,344.0C1826.1,346.5 1831.3,347.4 1833.8,346.5C1836.4,345.6 1841.8,339.0 1844.0,336.5C1846.1,334.0 1849.5,326.5 1851.2,326.5C1852.8,326.5 1855.5,332.8 1857.0,336.5C1858.4,340.2 1861.3,353.3 1862.8,356.4C1864.2,359.5 1866.8,362.3 1868.6,361.4C1870.4,360.5 1874.7,352.7 1877.2,349.0C1879.7,345.3 1885.9,335.2 1888.8,331.5C1891.7,327.8 1897.9,320.3 1900.5,319.1C1903.0,317.9 1906.9,321.9 1909.1,321.6C1911.2,321.3 1915.2,316.0 1917.8,316.6C1920.3,317.2 1926.9,323.1 1929.4,326.5C1931.9,329.9 1936.2,339.6 1938.0,344.0C1939.8,348.4 1942.7,358.4 1943.8,361.4C1945.0,364.3 1946.2,368.5 1947.3,367.6C1948.4,366.7 1950.8,358.7 1952.6,353.9C1954.3,349.1 1958.8,333.2 1961.3,329.0C1963.8,324.8 1969.9,321.4 1972.8,320.3C1975.7,319.2 1980.8,319.2 1984.4,320.3C1988.0,321.4 1998.1,327.9 2001.7,329.0C2005.4,330.1 2010.5,327.8 2013.4,329.0C2016.3,330.2 2022.3,336.8 2025.0,339.0C2027.7,341.2 2032.6,347.1 2035.1,346.5C2037.6,345.9 2042.5,337.3 2045.2,334.0C2048.0,330.7 2053.6,322.6 2056.9,320.3C2060.1,318.0 2066.9,315.9 2071.3,315.3C2075.6,314.7 2087.3,314.7 2091.6,315.3C2096.0,315.9 2102.4,318.3 2106.0,320.3C2109.7,322.3 2117.3,329.0 2120.6,331.5C2123.9,334.0 2129.3,339.6 2132.2,340.2C2135.1,340.8 2140.8,338.4 2143.7,336.5C2146.6,334.6 2151.7,327.0 2155.3,325.3C2159.0,323.6 2168.3,322.8 2172.7,322.8C2177.0,322.8 2186.1,323.6 2190.1,325.3C2194.1,327.0 2201.6,332.9 2204.5,336.5C2207.4,340.1 2211.3,349.5 2213.3,353.9C2215.2,358.3 2218.6,369.1 2220.5,371.4C2222.3,373.7 2225.4,372.9 2227.8,372.6C2230.1,372.3 2236.7,370.1 2239.3,368.9C2241.9,367.6 2247.6,363.4 2248.8,362.6" stroke="#ff8b45"/>
<path d="M180.2,118.5C185.3,119.9 210.6,127.1 220.9,130.0C231.2,132.9 251.0,138.8 262.7,141.6C274.3,144.3 301.5,149.7 314.0,152.0C326.5,154.3 350.3,159.0 362.7,160.2C375.0,161.4 400.3,161.5 412.8,161.5C425.3,161.5 450.2,160.9 462.6,160.3C474.9,159.7 499.1,157.6 511.6,156.5C524.1,155.4 549.8,152.7 562.4,151.6C575.1,150.5 600.3,148.9 612.8,148.0C625.3,147.1 648.2,145.6 662.4,144.5C676.7,143.4 711.3,140.7 726.7,139.5C742.2,138.3 778.6,135.4 786.0,134.8" stroke="#4b70bc"/>
<path d="M811.6,126.7C813.8,126.7 824.9,126.3 829.3,126.7C833.8,127.1 843.0,127.7 847.2,129.6C851.4,131.5 858.8,140.3 863.0,142.2C867.2,144.1 877.6,143.6 880.9,145.1C884.3,146.6 888.2,149.8 889.9,153.8C891.6,157.8 893.3,172.6 894.4,176.9C895.6,181.2 897.5,187.3 899.0,188.5C900.4,189.7 904.0,188.5 905.7,186.6C907.4,184.7 910.9,175.2 912.4,173.1C914.0,171.0 916.3,169.2 918.0,170.2C919.7,171.2 924.1,177.3 925.9,180.8C927.8,184.3 931.0,191.7 932.7,198.2C934.4,204.7 938.0,226.0 939.4,233.0C940.8,240.0 942.7,251.2 943.8,254.2C945.0,257.2 947.0,258.3 948.4,257.1C949.8,255.9 953.4,246.2 955.1,244.6C956.8,243.0 959.6,247.0 961.9,244.6C964.1,242.2 970.5,229.8 973.0,225.2C975.6,220.6 980.4,210.4 982.1,207.9C983.8,205.4 985.5,203.8 986.5,205.0C987.5,206.2 989.0,213.6 989.9,217.5C990.7,221.4 992.4,235.4 993.3,235.9C994.1,236.4 995.8,227.6 996.6,221.4C997.5,215.2 998.9,192.9 1000.0,186.6C1001.1,180.3 1004.0,173.6 1005.6,171.1C1007.1,168.6 1010.6,165.8 1012.3,166.3C1014.0,166.8 1017.5,171.5 1019.1,175.0C1020.6,178.5 1023.2,188.0 1024.8,194.3C1026.3,200.6 1030.1,218.7 1031.5,225.2C1032.9,231.7 1034.2,243.1 1035.9,246.5C1037.6,249.9 1043.3,248.7 1045.0,252.3C1046.7,255.9 1048.2,266.8 1049.4,275.5C1050.7,284.2 1053.7,312.1 1055.0,321.8C1056.3,331.5 1058.7,347.2 1059.5,352.8C1060.4,358.4 1061.0,365.8 1061.7,366.3C1062.4,366.8 1064.1,362.2 1065.1,356.6C1066.1,351.0 1068.2,331.0 1069.7,321.8C1071.1,312.6 1074.4,291.9 1076.4,283.2C1078.4,274.5 1082.8,259.1 1085.3,252.3C1087.9,245.5 1093.3,234.4 1096.6,229.1C1100.0,223.8 1108.1,214.4 1112.3,209.8C1116.5,205.2 1125.9,195.0 1130.3,192.4C1134.8,189.8 1144.2,191.1 1148.3,188.8C1152.3,186.5 1159.3,177.5 1162.7,174.3C1166.0,171.2 1172.1,165.4 1175.1,163.6C1178.1,161.8 1184.3,160.4 1186.6,160.2C1189.0,160.0 1191.9,161.0 1193.7,162.1C1195.5,163.2 1199.3,167.6 1200.8,169.0C1202.4,170.4 1204.6,173.7 1206.2,173.6C1207.7,173.5 1211.5,169.6 1213.3,168.2C1215.0,166.8 1218.7,163.1 1220.3,162.1C1222.0,161.1 1225.0,160.1 1226.5,160.2C1228.1,160.3 1231.2,161.6 1232.8,162.9C1234.3,164.2 1237.4,168.4 1239.0,170.5C1240.5,172.6 1243.7,177.0 1245.2,179.7C1246.8,182.4 1250.1,189.8 1251.4,191.9C1252.7,194.0 1254.7,196.8 1255.8,196.8C1256.9,196.8 1259.1,194.2 1260.2,191.9C1261.3,189.6 1263.6,181.0 1264.7,178.1C1265.7,175.2 1266.9,170.4 1268.3,169.0C1269.6,167.6 1273.6,167.1 1275.3,167.1C1277.1,167.1 1280.9,167.8 1282.4,169.0C1284.0,170.2 1286.6,173.3 1287.8,176.6C1289.0,179.8 1291.5,191.9 1292.2,195.0C1292.9,198.1 1293.0,201.0 1293.3,201.0C1293.5,201.0 1294.1,196.9 1294.5,195.0C1295.0,193.1 1295.9,188.3 1296.6,185.8C1297.3,183.3 1299.0,176.1 1300.1,175.1C1301.2,174.1 1303.9,176.4 1305.5,178.1C1307.0,179.8 1310.8,186.3 1312.6,188.8C1314.3,191.3 1317.3,195.4 1319.7,198.0C1322.0,200.6 1328.9,210.3 1331.4,209.8C1333.9,209.3 1337.6,198.2 1339.3,194.3C1341.0,190.4 1343.3,180.7 1344.9,178.9C1346.4,177.1 1349.4,177.6 1351.6,179.8C1353.9,182.0 1360.4,193.9 1362.9,196.3C1365.4,198.7 1369.1,199.9 1371.9,199.2C1374.7,198.5 1382.3,190.6 1385.3,190.5C1388.4,190.4 1394.3,194.8 1396.5,198.2C1398.8,201.6 1401.7,211.7 1403.3,217.5C1404.8,223.3 1407.7,239.3 1409.0,244.6C1410.2,249.9 1412.1,258.6 1413.4,260.0C1414.6,261.4 1417.0,258.8 1419.1,256.2C1421.2,253.5 1426.9,242.7 1430.2,238.8C1433.6,234.9 1443.1,225.9 1445.9,225.2C1448.7,224.5 1451.3,228.2 1452.7,233.0C1454.1,237.8 1456.2,252.8 1457.2,263.9C1458.2,275.0 1460.1,313.5 1460.6,321.8C1461.1,330.1 1460.9,332.9 1461.3,330.5C1461.7,328.1 1463.1,310.1 1464.0,302.5C1464.9,294.9 1466.8,276.2 1468.5,269.7C1470.2,263.2 1475.2,251.6 1477.4,250.4C1479.7,249.2 1484.2,255.9 1486.4,260.0C1488.6,264.1 1493.1,276.7 1495.3,283.2C1497.6,289.7 1502.2,306.6 1504.4,312.2C1506.7,317.8 1511.4,325.1 1513.4,327.6C1515.3,330.1 1518.4,333.9 1520.1,332.5C1521.8,331.1 1524.9,320.0 1526.9,316.0C1528.8,312.0 1533.6,304.2 1535.8,300.6C1538.1,297.0 1542.0,289.5 1544.8,287.1C1547.6,284.7 1555.2,280.8 1558.3,281.3C1561.4,281.8 1567.4,287.0 1569.5,290.9C1571.6,294.8 1574.0,307.8 1575.1,312.2C1576.2,316.6 1576.9,325.7 1578.5,325.7C1580.0,325.7 1584.8,314.4 1587.6,312.2C1590.4,310.0 1598.1,307.6 1600.9,308.3C1603.7,309.0 1607.7,313.2 1610.0,318.0C1612.3,322.8 1617.0,341.1 1619.0,347.0C1620.9,352.9 1623.5,365.2 1625.2,365.0C1626.9,364.8 1629.6,350.4 1632.4,345.0C1635.3,339.6 1644.8,327.1 1648.1,321.8C1651.5,316.5 1657.5,309.7 1659.4,302.5C1661.4,295.3 1662.8,272.6 1663.8,263.9C1664.8,255.2 1667.0,236.9 1667.4,233.0" stroke="#4b70bc"/>
<path d="M1693.0,160.9C1695.8,160.7 1710.1,159.1 1715.0,159.6C1719.9,160.1 1728.1,162.9 1732.4,164.6C1736.8,166.3 1745.4,173.3 1749.8,173.3C1754.1,173.3 1762.5,166.3 1767.2,164.6C1771.9,162.9 1782.4,159.9 1787.4,159.6C1792.5,159.3 1803.0,160.5 1807.7,162.1C1812.4,163.7 1821.1,171.0 1825.1,172.1C1829.1,173.2 1836.6,170.2 1839.5,170.8C1842.4,171.4 1845.7,174.1 1848.3,177.1C1850.8,180.1 1857.5,191.9 1859.9,194.5C1862.2,197.1 1864.9,198.8 1867.1,198.2C1869.3,197.6 1874.5,193.1 1877.2,189.5C1879.9,185.9 1885.9,172.5 1888.8,169.6C1891.7,166.7 1896.1,167.0 1900.5,166.6C1904.8,166.2 1919.3,165.9 1923.6,166.6C1927.9,167.3 1932.8,169.9 1935.1,172.1C1937.5,174.3 1941.0,180.8 1942.4,184.5C1943.9,188.2 1945.5,202.0 1946.7,202.0C1948.0,202.0 1950.4,188.1 1952.6,184.5C1954.7,180.9 1961.3,173.9 1964.2,173.3C1967.1,172.7 1972.4,177.2 1975.7,179.5C1979.0,181.8 1987.0,189.0 1990.2,192.0C1993.5,195.0 1999.2,202.6 2001.7,203.2C2004.3,203.8 2007.6,196.7 2010.5,197.0C2013.4,197.3 2021.7,204.0 2025.0,205.7C2028.3,207.4 2033.6,210.8 2036.5,210.7C2039.4,210.5 2045.2,207.2 2048.1,204.5C2051.0,201.8 2057.0,192.6 2059.8,189.5C2062.5,186.4 2066.6,180.6 2069.9,179.5C2073.1,178.4 2082.0,179.7 2085.8,180.8C2089.6,181.9 2096.7,186.1 2100.3,188.3C2104.0,190.5 2110.8,196.8 2114.8,198.2C2118.8,199.6 2127.9,200.1 2132.2,199.5C2136.6,198.9 2145.2,194.3 2149.5,193.2C2153.9,192.1 2162.6,190.5 2167.0,190.8C2171.3,191.1 2180.3,193.4 2184.3,195.7C2188.3,198.0 2195.6,204.6 2198.8,209.4C2202.1,214.2 2207.8,228.8 2210.3,234.4C2212.9,240.0 2216.9,251.0 2219.1,254.3C2221.2,257.6 2225.3,260.2 2227.8,260.5C2230.3,260.8 2236.7,257.7 2239.3,256.8C2241.9,255.9 2247.6,253.5 2248.8,253.0" stroke="#4b70bc"/>
</g>
<rect x="1058" y="67" width="34.3" height="624.2" fill="rgba(0,170,255,0.22)"/>
<rect x="1167.5" y="67" width="34.0" height="828.0" fill="rgba(0,170,255,0.22)"/>
<rect x="1292.5" y="67" width="34.5" height="631.0" fill="rgba(255,85,60,0.2)"/>
<rect x="1567.1" y="74.5" width="32.4" height="625.7" fill="rgba(0,170,255,0.22)"/>
<rect x="1830.7" y="76.2" width="34.1" height="828.1" fill="rgba(0,170,255,0.22)"/>
<rect x="1071.0" y="101.3" width="4.8" height="28.8" fill="#000"/><rect x="1071.0" y="156.9" width="4.8" height="28.8" fill="#000"/><rect x="1071.0" y="212.6" width="4.8" height="28.8" fill="#000"/><rect x="1071.0" y="268.2" width="4.8" height="28.8" fill="#000"/><rect x="1071.0" y="323.9" width="4.8" height="28.8" fill="#000"/><rect x="1071.0" y="379.6" width="4.8" height="28.8" fill="#000"/><rect x="1071.0" y="435.2" width="4.8" height="28.8" fill="#000"/><rect x="1071.0" y="490.9" width="4.8" height="28.8" fill="#000"/><rect x="1071.0" y="546.5" width="4.8" height="28.8" fill="#000"/><rect x="1071.0" y="602.1" width="4.8" height="28.8" fill="#000"/><rect x="1071.0" y="657.8" width="4.8" height="28.8" fill="#000"/>
<rect x="1183.3" y="101.3" width="4.8" height="28.8" fill="#000"/><rect x="1183.3" y="156.9" width="4.8" height="28.8" fill="#000"/><rect x="1183.3" y="212.6" width="4.8" height="28.8" fill="#000"/><rect x="1183.3" y="268.2" width="4.8" height="28.8" fill="#000"/><rect x="1183.3" y="323.9" width="4.8" height="28.8" fill="#000"/><rect x="1183.3" y="379.6" width="4.8" height="28.8" fill="#000"/><rect x="1183.3" y="435.2" width="4.8" height="28.8" fill="#000"/><rect x="1183.3" y="490.9" width="4.8" height="28.8" fill="#000"/><rect x="1183.3" y="546.5" width="4.8" height="28.8" fill="#000"/><rect x="1183.3" y="602.1" width="4.8" height="28.8" fill="#000"/><rect x="1183.3" y="657.8" width="4.8" height="28.8" fill="#000"/><rect x="1183.3" y="713.4" width="4.8" height="28.8" fill="#000"/><rect x="1183.3" y="769.1" width="4.8" height="28.8" fill="#000"/><rect x="1183.3" y="824.7" width="4.8" height="28.8" fill="#000"/><rect x="1183.3" y="880.4" width="4.8" height="28.8" fill="#000"/>
<rect x="1306.9" y="101.3" width="4.8" height="28.8" fill="#000"/><rect x="1306.9" y="156.9" width="4.8" height="28.8" fill="#000"/><rect x="1306.9" y="212.6" width="4.8" height="28.8" fill="#000"/><rect x="1306.9" y="268.2" width="4.8" height="28.8" fill="#000"/><rect x="1306.9" y="323.9" width="4.8" height="28.8" fill="#000"/><rect x="1306.9" y="379.6" width="4.8" height="28.8" fill="#000"/><rect x="1306.9" y="435.2" width="4.8" height="28.8" fill="#000"/><rect x="1306.9" y="490.9" width="4.8" height="28.8" fill="#000"/><rect x="1306.9" y="546.5" width="4.8" height="28.8" fill="#000"/><rect x="1306.9" y="602.1" width="4.8" height="28.8" fill="#000"/><rect x="1306.9" y="657.8" width="4.8" height="28.8" fill="#000"/>
<rect x="1579.2" y="101.3" width="5.6" height="28.8" fill="#000"/><rect x="1579.2" y="156.9" width="5.6" height="28.8" fill="#000"/><rect x="1579.2" y="212.6" width="5.6" height="28.8" fill="#000"/><rect x="1579.2" y="268.2" width="5.6" height="28.8" fill="#000"/><rect x="1579.2" y="323.9" width="5.6" height="28.8" fill="#000"/><rect x="1579.2" y="379.6" width="5.6" height="28.8" fill="#000"/><rect x="1579.2" y="435.2" width="5.6" height="28.8" fill="#000"/><rect x="1579.2" y="490.9" width="5.6" height="28.8" fill="#000"/><rect x="1579.2" y="546.5" width="5.6" height="28.8" fill="#000"/><rect x="1579.2" y="602.1" width="5.6" height="28.8" fill="#000"/><rect x="1579.2" y="657.8" width="5.6" height="28.8" fill="#000"/>
<rect x="1841.6" y="101.3" width="5.6" height="28.8" fill="#000"/><rect x="1841.6" y="156.9" width="5.6" height="28.8" fill="#000"/><rect x="1841.6" y="212.6" width="5.6" height="28.8" fill="#000"/><rect x="1841.6" y="268.2" width="5.6" height="28.8" fill="#000"/><rect x="1841.6" y="323.9" width="5.6" height="28.8" fill="#000"/><rect x="1841.6" y="379.6" width="5.6" height="28.8" fill="#000"/><rect x="1841.6" y="435.2" width="5.6" height="28.8" fill="#000"/><rect x="1841.6" y="490.9" width="5.6" height="28.8" fill="#000"/><rect x="1841.6" y="546.5" width="5.6" height="28.8" fill="#000"/><rect x="1841.6" y="602.1" width="5.6" height="28.8" fill="#000"/><rect x="1841.6" y="657.8" width="5.6" height="28.8" fill="#000"/><rect x="1841.6" y="713.4" width="5.6" height="28.8" fill="#000"/><rect x="1841.6" y="769.1" width="5.6" height="28.8" fill="#000"/><rect x="1841.6" y="824.7" width="5.6" height="28.8" fill="#000"/><rect x="1841.6" y="880.4" width="5.6" height="28.8" fill="#000"/>
<path d="M1018.2,143.9 Q1035.0,142.5 1046.2,136.9 L1046.2,150.9 Q1035.0,145.3 1018.2,143.9 Z" fill="#000"/><rect x="1045.2" y="141.15" width="22.3" height="5.5" fill="#000"/>
<path d="M1132.2,140.4 Q1149.0,139.0 1160.2,133.4 L1160.2,147.4 Q1149.0,141.8 1132.2,140.4 Z" fill="#000"/><rect x="1159.2" y="137.65" width="22.3" height="5.5" fill="#000"/>
<path d="M1018.1,363.8 Q1034.9,362.4 1046.1,356.8 L1046.1,370.8 Q1034.9,365.2 1018.1,363.8 Z" fill="#000"/><rect x="1045.1" y="361.05" width="21.8" height="5.5" fill="#000"/>
<path d="M1132.1,363.8 Q1148.9,362.4 1160.1,356.8 L1160.1,370.8 Q1148.9,365.2 1132.1,363.8 Z" fill="#000"/><rect x="1159.1" y="361.05" width="21.8" height="5.5" fill="#000"/>
<path d="M1519.8,144.2 Q1536.6,142.8 1547.8,137.2 L1547.8,151.2 Q1536.6,145.6 1519.8,144.2 Z" fill="#000"/><rect x="1546.8" y="141.45" width="20.8" height="5.5" fill="#000"/>
<path d="M1776.4,143.4 Q1793.2,142.0 1804.4,136.4 L1804.4,150.4 Q1793.2,144.8 1776.4,143.4 Z" fill="#000"/><rect x="1803.4" y="140.65" width="19.6" height="5.5" fill="#000"/>
<path d="M1519.8,368.4 Q1536.6,367.0 1547.8,361.4 L1547.8,375.4 Q1536.6,369.8 1519.8,368.4 Z" fill="#000"/><rect x="1546.8" y="365.65" width="20.8" height="5.5" fill="#000"/>
<path d="M1776.4,366.4 Q1793.2,365.0 1804.4,359.4 L1804.4,373.4 Q1793.2,367.8 1776.4,366.4 Z" fill="#000"/><rect x="1803.4" y="363.65" width="19.6" height="5.5" fill="#000"/>
<path d="M1049.4,635.1 L1039.5,657.9 L1037.9,652.8 L990.1,712.7 L986.9,710.1 L1034.7,650.2 L1029.3,649.8 Z" fill="#000"/>
<path d="M1318.5,694.0 L1331.5,715.2 L1326.4,713.6 L1343.1,770.7 L1339.1,771.9 L1322.4,714.7 L1319.0,718.9 Z" fill="#000"/>
<path d="M1181.3,894.2 L1176.5,918.6 L1173.9,914.0 L1153.7,954.9 L1149.9,953.1 L1170.1,912.1 L1164.9,912.8 Z" fill="#000"/>
<g fill="#000">
<rect x="141.8" y="29" width="12.8" height="1214"/>
<rect x="142" y="29" width="1303" height="13.8"/>
<rect x="142" y="1229.5" width="1303" height="13.4"/>
<rect x="1434.2" y="29" width="7.3" height="1214"/>
<rect x="1449" y="29" width="7" height="1214"/>
<rect x="1447" y="29" width="500" height="13.8"/>
<rect x="1447" y="1229.5" width="500" height="13.4"/>
<rect x="1933.3" y="29" width="13.6" height="1214"/>
<rect x="247.3" y="1223" width="13.4" height="8"/>
<rect x="510.8" y="1223" width="13.4" height="8"/>
<rect x="850.3" y="1223" width="13.4" height="8"/>
<rect x="1113.8" y="1223" width="13.4" height="8"/>
<rect x="1378.3" y="1223" width="13.4" height="8"/>
<rect x="1592.7" y="1223" width="13.4" height="8"/>
<rect x="1811.6" y="1223" width="13.4" height="8"/>
</g>
<polygon points="682.3,19.8 692.2,27.8 670,53.4 659.6,43.6" fill="#000"/><polygon points="704.6,19.8 714,28 691.5,53.4 682.4,44.4" fill="#000"/><polygon points="690.6,28.6 693.0,28.6 685.2,43.4 682.6,43.4" fill="#fff"/>
<polygon points="682.3,1220.1 692.2,1228.1 670,1253.7 659.6,1243.8999999999999" fill="#000"/><polygon points="704.6,1220.1 714,1228.3 691.5,1253.7 682.4,1244.7" fill="#000"/><polygon points="690.6,1228.8999999999999 693.0,1228.8999999999999 685.2,1243.7 682.6,1243.7" fill="#fff"/>
<text transform="translate(163,103) scale(1.03,1)" font-size="72" >(a)</text>
<text transform="translate(1469,102.5) scale(1.02,1)" font-size="72" >(b)</text>
<text transform="translate(168.1,210.6) scale(1.066,1)" font-size="55" >PW/UiO/CNTs-OH</text>
<text transform="translate(168.1,366.3) scale(1.08,1)" font-size="55" >PW/UiO</text>
<text transform="translate(169.9,544.6) scale(1.072,1)" font-size="55" >UiO-66</text>
<text transform="translate(168.4,866.3) scale(1.08,1)" font-size="55" >H</text>
<text transform="translate(213.8,881.7) scale(1.08,1)" font-size="38" >3</text>
<text transform="translate(234,866.3) scale(1.08,1)" font-size="55" >PW</text>
<text transform="translate(329.5,881.7) scale(1.08,1)" font-size="38" >12</text>
<text transform="translate(370.5,866.3) scale(1.08,1)" font-size="55" >O</text>
<text transform="translate(417,881.7) scale(1.08,1)" font-size="38" >40</text>
<text transform="translate(168.4,1182.2) scale(1.076,1)" font-size="55" >MWCNTs</text>
<text transform="translate(931.5,765.9) scale(1.065,1)" font-size="50" >Zr-O</text>
<text transform="translate(1243.6,818.5) scale(1.02,1)" font-size="50" >W-O-Zr</text>
<text transform="translate(1032,1000.3) scale(1.0,1)" font-size="51.5" >W-O<tspan font-size="33" dy="14.5">c</tspan><tspan dy="-14.5">-W</tspan></text>
<text transform="translate(252.8,1323.3) scale(0.98,1)" font-size="97" text-anchor="middle">3500</text>
<text transform="translate(516.5,1323.3) scale(0.98,1)" font-size="97" text-anchor="middle">3000</text>
<text transform="translate(857.7,1323.3) scale(0.98,1)" font-size="97" text-anchor="middle">1500</text>
<text transform="translate(1120.5,1323.3) scale(0.98,1)" font-size="97" text-anchor="middle">1000</text>
<text transform="translate(1384.3,1323.3) scale(0.98,1)" font-size="97" text-anchor="middle">500</text>
<text transform="translate(1599.3,1323.3) scale(0.98,1)" font-size="97" text-anchor="middle">1080</text>
<text transform="translate(1818,1323.3) scale(0.98,1)" font-size="97" text-anchor="middle">900</text>
<text transform="translate(665,1422.3) scale(1.004,1)" font-size="92" >Wavenumber (cm</text>
<text transform="translate(1375.4,1391) scale(1.54,1.7)" font-size="69">-</text>
<text transform="translate(1408.4,1384.5) scale(1.0,1)" font-size="69" >1</text>
<text transform="translate(1440.5,1424.5) scale(1.1,1)" font-size="92" >)</text>
<text transform="translate(94.7,1015.5) rotate(-90) scale(1.012,1)" font-size="92">Transmittance (%)</text>
</svg></body></html>
